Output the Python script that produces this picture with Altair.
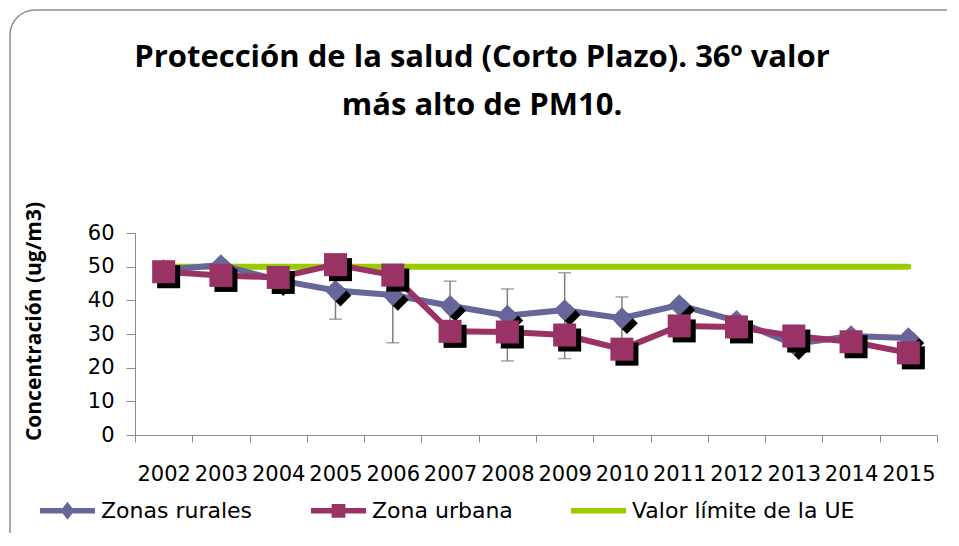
import altair as alt
import pandas as pd

years = ["2002", "2003", "2004", "2005", "2006", "2007", "2008",
         "2009", "2010", "2011", "2012", "2013", "2014", "2015"]
rural = [49.0, 50.5, 46.0, 42.9, 41.6, 38.4, 35.5, 37.1, 34.7, 38.6, 33.9, 27.0, 29.4, 28.8]
urban = [48.5, 47.4, 46.8, 50.6, 47.5, 30.8, 30.6, 29.7, 25.5, 32.4, 32.1, 29.4, 27.7, 24.4]
limit = [50, 50, 50, 50, 50, 50, 50, 50, 50, 50, 50, 50, 50, 50]

err_years = ["2005", "2006", "2007", "2008", "2009", "2010"]
err_low = [34.4, 27.4, 26.2, 22.0, 22.7, 27.5]
err_high = [42.9, 41.6, 45.7, 43.4, 48.2, 41.0]

series_names = ["Zonas rurales", "Zona urbana", "Valor límite de la UE"]
colors = ["#666699", "#993366", "#99CC00"]
y_ticks = [0, 10, 20, 30, 40, 50, 60]

# legend symbols: line + marker
legend_paths = [
    "M-1,-0.1L1,-0.1L1,0.1L-1,0.1Z M0,-0.33L0.25,0L0,0.33L-0.25,0Z",
    "M-1,-0.1L1,-0.1L1,0.1L-1,0.1Z M-0.25,-0.25L0.25,-0.25L0.25,0.25L-0.25,0.25Z",
    "M-1,-0.1L1,-0.1L1,0.1L-1,0.1Z",
]

df = pd.DataFrame({
    "year": years * 3,
    "value": rural + urban + limit,
    "series": [s for s in series_names for _ in years],
})
err = pd.DataFrame({"year": err_years, "low": err_low, "high": err_high})

W, H = 802, 202

xscale = alt.Scale(type="band", domain=years, paddingInner=0, paddingOuter=0)
yscale = alt.Scale(domain=[0, 60], nice=False)

x_axis = alt.Axis(
    title=None, labelAngle=0, tickBand="extent", tickSize=7,
    labelPadding=21, labelFont="DejaVu Sans", labelFontSize=21,
    labelColor="black", domainColor="#8c8c8c", tickColor="#8c8c8c",
    labelOverlap=False)
y_axis = alt.Axis(
    values=y_ticks, title="Concentración (ug/m3)", grid=False,
    titleFont="Open Sans", titleFontSize=21, titleFontWeight="bold", titleColor="black",
    titleX=-101, titleY=88, titleBaseline="middle", titleAngle=-90,
    tickSize=9, labelPadding=12, labelFont="DejaVu Sans", labelFontSize=21,
    labelColor="black", domainColor="#8c8c8c", tickColor="#8c8c8c",
    labelOverlap=False, labelBound=False, labelFlush=False)

x_enc = alt.X("year:O", scale=xscale, axis=x_axis)
y_enc = alt.Y("value:Q", scale=yscale, axis=y_axis)

base = alt.Chart(df)

frame = alt.Chart(pd.DataFrame({"f": [0]})).mark_rect(
    fillOpacity=0, stroke="#8c8c8c", strokeWidth=1.5, cornerRadius=25
).encode(x=alt.value(-125), x2=alt.value(W + 120), y=alt.value(-223), y2=alt.value(H + 150))

limit_line = base.transform_filter(alt.datum.series == series_names[2]).mark_line(
    color=colors[2], strokeWidth=6, strokeCap="round").encode(x=x_enc, y=y_enc)

err_rule = alt.Chart(err).mark_rule(color="#7f7f7f", strokeWidth=1.5).encode(
    x=x_enc, y=alt.Y("low:Q", scale=yscale, axis=y_axis), y2="high:Q")
err_cap_lo = alt.Chart(err).mark_tick(color="#7f7f7f", thickness=1.5, size=13).encode(
    x=x_enc, y=alt.Y("low:Q", scale=yscale, axis=y_axis))
err_cap_hi = alt.Chart(err).mark_tick(color="#7f7f7f", thickness=1.5, size=13).encode(
    x=x_enc, y=alt.Y("high:Q", scale=yscale, axis=y_axis))


def series_layers(name, color, shape, size):
    d = base.transform_filter(alt.datum.series == name)
    line = d.mark_line(color=color, strokeWidth=6, strokeJoin="round").encode(x=x_enc, y=y_enc)
    shadow = d.mark_point(shape=shape, filled=True, color="black", opacity=1,
                          size=size, xOffset=5, yOffset=5).encode(x=x_enc, y=y_enc)
    pts = d.mark_point(shape=shape, filled=True, color=color, opacity=1,
                       size=size).encode(x=x_enc, y=y_enc)
    return [line, shadow, pts]


leg = dict(orient="none", legendX=-95, legendY=250, direction="horizontal", title=None,
           labelFont="DejaVu Sans", labelFontSize=22, labelColor="black", labelOffset=6,
           columnPadding=58, symbolSize=3025, symbolStrokeWidth=0, padding=0,
           gridAlign="each", labelLimit=400)

legend_layer = base.transform_filter("false").mark_point(filled=True, opacity=1, size=3025).encode(
    x=x_enc, y=y_enc,
    color=alt.Color("series:N", scale=alt.Scale(domain=series_names, range=colors),
                    legend=alt.Legend(**leg)),
    shape=alt.Shape("series:N", scale=alt.Scale(domain=series_names, range=legend_paths),
                    legend=alt.Legend(**leg)),
)

layers = [frame, limit_line, err_rule, err_cap_lo, err_cap_hi]
layers += series_layers(series_names[0], colors[0], "diamond", 470)
layers += series_layers(series_names[1], colors[1], "square", 530)
layers += [legend_layer]

chart = alt.layer(*layers).properties(
    width=W, height=H,
    autosize=alt.AutoSizeParams(type="none"),
    padding={"left": 127, "top": 225, "right": 10, "bottom": 98},
    title=alt.TitleParams(
        text=["Protección de la salud (Corto Plazo). 36º valor", "más alto de PM10."],
        font="Open Sans", fontSize=31, fontWeight="bold", color="black",
        anchor="middle", frame="group", dx=-54, offset=-113, lineHeight=48),
).configure(background="white").configure_view(strokeWidth=0)

chart.save("out.html", embed_options={"renderer": "svg", "actions": False})
